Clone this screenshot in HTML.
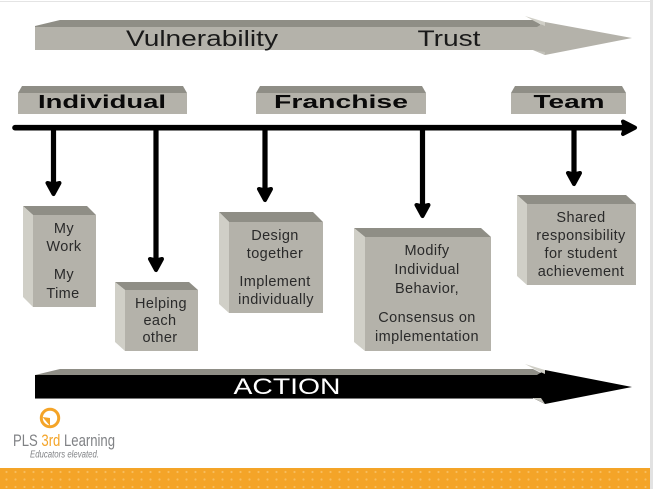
<!DOCTYPE html>
<html>
<head>
<meta charset="utf-8">
<style>
html,body{margin:0;padding:0;background:#fff;width:653px;height:489px;overflow:hidden}
svg{display:block}
text{font-family:"Liberation Sans",sans-serif}
.b{font-size:14.5px;letter-spacing:.4px;fill:#2a2a2a;text-anchor:middle}
.h{font-size:18px;font-weight:bold;fill:#0a0a0a;text-anchor:middle}
.t{font-size:22px;fill:#1a1a1a;text-anchor:middle}
</style>
</head>
<body>
<svg width="653" height="489" viewBox="0 0 653 489" xmlns="http://www.w3.org/2000/svg">
<defs>
<pattern id="dots" width="9" height="7.5" patternUnits="userSpaceOnUse" x="2" y="468.5">
<rect width="9" height="7.5" fill="#f4a428"/>
<circle cx="4.5" cy="3.5" r="1.1" fill="#f8bd5c"/>
</pattern>
</defs>
<rect x="0" y="0" width="653" height="489" fill="#fff"/>
<rect x="0" y="1" width="653" height="1" fill="#e4e4e4"/>
<rect x="650" y="0" width="3" height="489" fill="#e2e2e2"/>

<!-- top arrow -->
<polygon points="35,26 60,20 533,20 545,27 35,27" fill="#8f8e86"/>
<polygon points="35,27 537,27 545,22 632,38 545,55 533,50 35,50" fill="#b4b2aa"/>
<polygon points="525,16 545,22 545,26 536,22" fill="#d0cfc7"/>
<polygon points="533,50 545,55 545,52" fill="#c2c1b9"/>
<text class="t" x="202" y="46" textLength="152" lengthAdjust="spacingAndGlyphs">Vulnerability</text>
<text class="t" x="449" y="46" textLength="63" lengthAdjust="spacingAndGlyphs">Trust</text>

<!-- headers -->
<polygon points="18,93 22,86 183,86 187,93" fill="#8f8e86"/>
<rect x="18" y="93" width="169" height="21" fill="#b4b2aa"/>
<text class="h" x="102" y="108" textLength="128" lengthAdjust="spacingAndGlyphs">Individual</text>
<polygon points="256,93 260,86 422,86 426,93" fill="#8f8e86"/>
<rect x="256" y="93" width="170" height="21" fill="#b4b2aa"/>
<text class="h" x="341" y="108" textLength="134" lengthAdjust="spacingAndGlyphs">Franchise</text>
<polygon points="511,93 515,86 622,86 626,93" fill="#8f8e86"/>
<rect x="511" y="93" width="115" height="21" fill="#b4b2aa"/>
<text class="h" x="569" y="108" textLength="71" lengthAdjust="spacingAndGlyphs">Team</text>

<!-- timeline -->
<line x1="15" y1="127.7" x2="630" y2="127.7" stroke="#000" stroke-width="5.6" stroke-linecap="round"/>
<polygon points="623,121.5 635,127.7 623,134 625,127.7" fill="#000" stroke="#000" stroke-width="4" stroke-linejoin="round"/>

<!-- down arrows -->
<g fill="#000" stroke="#000">
<g stroke-width="5.2">
<line x1="53.5" y1="128" x2="53.5" y2="186"/>
<line x1="156" y1="128" x2="156" y2="262"/>
<line x1="265" y1="128" x2="265" y2="191"/>
<line x1="422.5" y1="128" x2="422.5" y2="207"/>
<line x1="574" y1="128" x2="574" y2="175"/>
</g>
<g stroke-width="4" stroke-linejoin="round">
<polygon points="47.5,183 53.5,184.5 59.5,183 53.5,194"/>
<polygon points="150,259 156,260.5 162,259 156,270"/>
<polygon points="259,189 265,190.5 271,189 265,200"/>
<polygon points="416.5,205 422.5,206.5 428.5,205 422.5,216"/>
<polygon points="568,173 574,174.5 580,173 574,184"/>
</g>
</g>

<!-- box 1 -->
<polygon points="23,206 87,206 96,215 33,215" fill="#8f8e86"/>
<polygon points="23,206 33,215 33,307 23,297" fill="#d0cfc7"/>
<rect x="33" y="215" width="63" height="92" fill="#b4b2aa"/>
<text class="b" x="64" y="233">My</text>
<text class="b" x="64" y="251">Work</text>
<text class="b" x="64" y="279">My</text>
<text class="b" x="63" y="298">Time</text>

<!-- box 2 -->
<polygon points="115,282 189,282 198,290 125,290" fill="#8f8e86"/>
<polygon points="115,282 125,290 125,351 115,342" fill="#d0cfc7"/>
<rect x="125" y="290" width="73" height="61" fill="#b4b2aa"/>
<text class="b" x="161" y="308">Helping</text>
<text class="b" x="160" y="325">each</text>
<text class="b" x="160" y="342">other</text>

<!-- box 3 -->
<polygon points="219,212 313,212 323,222 229,222" fill="#8f8e86"/>
<polygon points="219,212 229,222 229,313 219,304" fill="#d0cfc7"/>
<rect x="229" y="222" width="94" height="91" fill="#b4b2aa"/>
<text class="b" x="275" y="240">Design</text>
<text class="b" x="275" y="258">together</text>
<text class="b" x="275" y="286">Implement</text>
<text class="b" x="276" y="304">individually</text>

<!-- box 4 -->
<polygon points="354,228 481,228 491,237 365,237" fill="#8f8e86"/>
<polygon points="354,228 365,237 365,351 354,342" fill="#d0cfc7"/>
<rect x="365" y="237" width="126" height="114" fill="#b4b2aa"/>
<text class="b" x="427" y="255">Modify</text>
<text class="b" x="427" y="274">Individual</text>
<text class="b" x="427" y="293">Behavior,</text>
<text class="b" x="427" y="322">Consensus on</text>
<text class="b" x="427" y="341">implementation</text>

<!-- box 5 -->
<polygon points="517,195 626,195 636,204 527,204" fill="#8f8e86"/>
<polygon points="517,195 527,204 527,285 517,276" fill="#d0cfc7"/>
<rect x="527" y="204" width="109" height="81" fill="#b4b2aa"/>
<text class="b" x="581" y="222">Shared</text>
<text class="b" x="581" y="240">responsibility</text>
<text class="b" x="581" y="258">for student</text>
<text class="b" x="581" y="276">achievement</text>

<!-- action arrow -->
<polygon points="35,375 60,369 533,369 545,375" fill="#8f8e86"/>
<polygon points="35,375 537,375 545,370 632,387 545,404 533,398 35,398" fill="#000"/>
<polygon points="525,364 545,370 545,374 536,370" fill="#d0cfc7"/>
<polygon points="533,398 545,404 541,398" fill="#c2c1b9"/>
<rect x="35" y="398" width="498" height="1" fill="#777"/>
<text x="287" y="394" font-size="22" fill="#fff" text-anchor="middle" textLength="107" lengthAdjust="spacingAndGlyphs">ACTION</text>

<!-- logo -->
<circle cx="50" cy="418" r="8.7" fill="#fff" stroke="#f4a428" stroke-width="3"/>
<polygon points="42.5,417 50,418 50,426" fill="#f4a428"/>
<text x="13" y="446" font-size="17" fill="#808285" textLength="102" lengthAdjust="spacingAndGlyphs">PLS <tspan fill="#f4a428">3rd</tspan> Learning</text>
<text x="30" y="457.5" font-size="10" font-style="italic" fill="#808285" textLength="69" lengthAdjust="spacingAndGlyphs">Educators elevated.</text>

<!-- footer band -->
<rect x="0" y="468" width="650" height="21" fill="url(#dots)"/>
</svg>
</body>
</html>
